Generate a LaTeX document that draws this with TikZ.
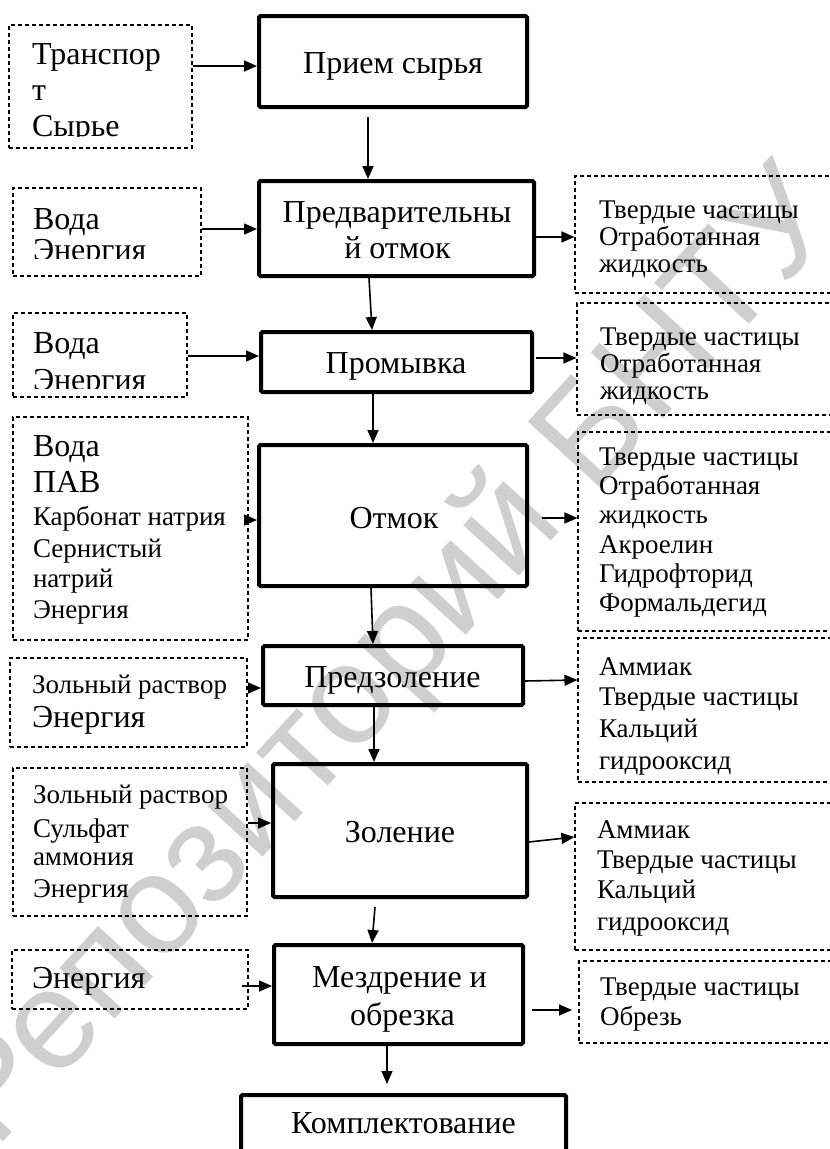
\documentclass[tikz,border=0pt]{standalone}
\usepackage{fontspec}
\setmainfont{Liberation Serif}
\newfontfamily\wmfont{Liberation Sans}
\usetikzlibrary{arrows.meta,fit}
\newcommand\bigsz{\fontsize{32}{36}\selectfont}
\newcommand\smsz{\fontsize{27}{30}\selectfont}
\tikzset{
 mainbox/.style={draw, line width=4pt, rounded corners=1.5pt, inner sep=0pt},
 dbox/.style={draw, line width=1.1pt, dash pattern=on 4pt off 3pt, inner sep=0pt},
 tline/.style={anchor=base west, inner sep=0pt, outer sep=0pt},
 mtext/.style={anchor=base, inner sep=0pt, outer sep=0pt, font=\bigsz},
 arr/.style={line width=1.6pt, -{Triangle[length=13pt,width=11pt]}},
}
\begin{document}
\begin{tikzpicture}[x=1pt,y=-1pt]
\clip (0,0) rectangle (830,1149);
\fill[white] (0,0) rectangle (830,1149);
% watermark
\node[rotate=47.6, text=black!19, font=\wmfont\fontsize{142}{142}\selectfont] (wm) at (392,660) {Репозиторий БНТУ};

% main process boxes
\node[mainbox, fit={(259,16)(527,107)}] (prim) {};
\node[mainbox, fit={(259,181)(534,276)}] (pred) {};
\node[mainbox, fit={(261,332)(532,392)}] (prom) {};
\node[mainbox, fit={(259,445)(527,586)}] (otm) {};
\node[mainbox, fit={(263,646)(523,705)}] (pzol) {};
\node[mainbox, fit={(273,764)(527,897)}] (zol) {};
\node[mainbox, fit={(274,945)(523,1044)}] (mezd) {};
\node[mainbox, fit={(241,1095)(566,1160)}] (kompl) {};

% main texts
\node[mtext] (primt) at (393,73) {Прием сырья};
\node[mtext] (predt1) at (397,222) {Предварительны};
\node[mtext] (predt2) at (397.5,258) {й отмок};
\node[mtext] (promt) at (396,373) {Промывка};
\node[mtext] (otmt) at (394,528) {Отмок};
\node[mtext] (pzolt) at (392.5,687) {Предзоление};
\node[mtext] (zolt) at (400,842) {Золение};
\node[mtext] (mezdt1) at (399.5,987) {Мездрение и};
\node[mtext] (mezdt2) at (402.5,1025) {обрезка};
\node[mtext] (komplt) at (403.5,1133) {Комплектование};

% left input boxes
\node[dbox, fit={(9,25)(192,148)}] (L1) {};
\node[dbox, fit={(13,188)(201,276)}] (L2) {};
\node[dbox, fit={(13,313)(187,397)}] (L3) {};
\node[dbox, fit={(13,417)(248,640)}] (L4) {};
\node[dbox, fit={(10,658)(247,747)}] (L5) {};
\node[dbox, fit={(13,768)(247,916)}] (L6) {};
\node[dbox, fit={(12,950)(248,1009)}] (L7) {};

% right output boxes
\node[dbox, fit={(575,176)(850,293)}] (R1) {};
\node[dbox, fit={(577,303)(850,415)}] (R2) {};
\node[dbox, fit={(578,432)(850,631)}] (R3) {};
\node[dbox, fit={(578,638)(850,782)}] (R4) {};
\node[dbox, fit={(575,803)(850,950)}] (R5) {};
\node[dbox, fit={(579,961)(850,1043)}] (R6) {};

% left texts
\begin{scope}
\clip (9,25) rectangle (192,136.5);
\node[tline, font=\bigsz] (t1a) at (32,64) {Транспор};
\node[tline, font=\bigsz] (t1b) at (32,100) {т};
\node[tline, font=\bigsz] (t1c) at (32,136) {Сырье};
\end{scope}
\begin{scope}
\clip (13,188) rectangle (201,258);
\node[tline, font=\bigsz] (t2a) at (33,229) {Вода};
\node[tline, font=\bigsz] (t2b) at (33,260) {Энергия};
\end{scope}
\begin{scope}
\clip (13,313) rectangle (187,388);
\node[tline, font=\bigsz] (t3a) at (33,353) {Вода};
\node[tline, font=\bigsz] (t3b) at (33,390) {Энергия};
\end{scope}
\node[tline, font=\bigsz] (t4a) at (33,456) {Вода};
\node[tline, font=\bigsz] (t4b) at (33,492) {ПАВ};
\node[tline, font=\smsz] (t4c) at (33,525) {Карбонат натрия};
\node[tline, font=\smsz] (t4d) at (33,557) {Сернистый};
\node[tline, font=\smsz] (t4e) at (33,587) {натрий};
\node[tline, font=\smsz] (t4f) at (33,618) {Энергия};
\node[tline, font=\smsz] (t5a) at (32,693) {Зольный раствор};
\node[tline, font=\bigsz] (t5b) at (32,727) {Энергия};
\node[tline, font=\smsz] (t6a) at (33,803) {Зольный раствор};
\node[tline, font=\smsz] (t6b) at (33,837) {Сульфат};
\node[tline, font=\smsz] (t6c) at (33,865) {аммония};
\node[tline, font=\smsz] (t6d) at (33,897) {Энергия};
\node[tline, font=\bigsz] (t7a) at (32,988) {Энергия};

% right texts
\node[tline, font=\smsz] (r1a) at (599,218) {Твердые частицы};
\node[tline, font=\smsz] (r1b) at (599,245) {Отработанная};
\node[tline, font=\smsz] (r1c) at (599,272) {жидкость};
\node[tline, font=\smsz] (r2a) at (600,345) {Твердые частицы};
\node[tline, font=\smsz] (r2b) at (600,372) {Отработанная};
\node[tline, font=\smsz] (r2c) at (600,399) {жидкость};
\node[tline, font=\smsz] (r3a) at (599,465) {Твердые частицы};
\node[tline, font=\smsz] (r3b) at (599,494) {Отработанная};
\node[tline, font=\smsz] (r3c) at (599,523) {жидкость};
\node[tline, font=\smsz] (r3d) at (599,553) {Акроелин};
\node[tline, font=\smsz] (r3e) at (599,582) {Гидрофторид};
\node[tline, font=\smsz] (r3f) at (599,611) {Формальдегид};
\node[tline, font=\smsz] (r4a) at (599,675) {Аммиак};
\node[tline, font=\smsz] (r4b) at (599,705) {Твердые частицы};
\node[tline, font=\smsz] (r4c) at (599,737) {Кальций};
\node[tline, font=\smsz] (r4d) at (599,769) {гидрооксид};
\node[tline, font=\smsz] (r5a) at (597,838) {Аммиак};
\node[tline, font=\smsz] (r5b) at (597,868) {Твердые частицы};
\node[tline, font=\smsz] (r5c) at (597,898) {Кальций};
\node[tline, font=\smsz] (r5d) at (597,930) {гидрооксид};
\node[tline, font=\smsz] (r6a) at (600,995) {Твердые частицы};
\node[tline, font=\smsz] (r6b) at (600,1025) {Обрезь};

% input arrows
\draw[arr] (L1.east |- 0,66) -- (prim.west |- 0,66);
\draw[arr] (L2.east |- 0,229) -- (pred.west |- 0,229);
\draw[arr] (L3.east |- 0,356) -- (prom.west |- 0,356);
\coordinate (a4s) at (246,520);
\draw[arr] (a4s) -- (otm.west |- a4s);
\draw[arr] (L5.east |- 0,688) -- (pzol.west |- 0,688);
\draw[arr] (L6.east |- 0,823) -- (zol.west |- 0,823);
\coordinate (a7s) at (242,986);
\draw[arr] (a7s) -- (mezd.west |- a7s);

% main flow arrows
\coordinate (v1s) at (368,117);
\draw[arr] (v1s) -- (pred.north -| v1s);
\draw[arr] (pred.south -| 369,0) -- (prom.north -| 372,0);
\draw[arr] (prom.south -| 373,0) -- (otm.north -| 373,0);
\draw[arr] (otm.south -| 371,0) -- (pzol.north -| 373,0);
\draw[arr] (pzol.south -| 374,0) -- (zol.north -| 374,0);
\coordinate (v6s) at (375,907);
\draw[arr] (v6s) -- (mezd.north -| 372,0);
\coordinate (v7e) at (387,1084);
\draw[arr] (mezd.south -| v7e) -- (v7e);

% output arrows
\draw[arr] (pred.east |- 0,237) -- (R1.west |- 0,237);
\coordinate (r2s) at (536,358);
\draw[arr] (r2s) -- (R2.west |- r2s);
\coordinate (r3s) at (542,518);
\draw[arr] (r3s) -- (R3.west |- r3s);
\draw[arr] (pzol.east |- 0,681) -- (R4.west |- 0,680);
\draw[arr] (zol.east |- 0,842) -- (R5.west |- 0,837);
\coordinate (r6s) at (532,1010);
\coordinate (r6e) at (572,1010);
\draw[arr] (r6s) -- (r6e);
\end{tikzpicture}
\end{document}
